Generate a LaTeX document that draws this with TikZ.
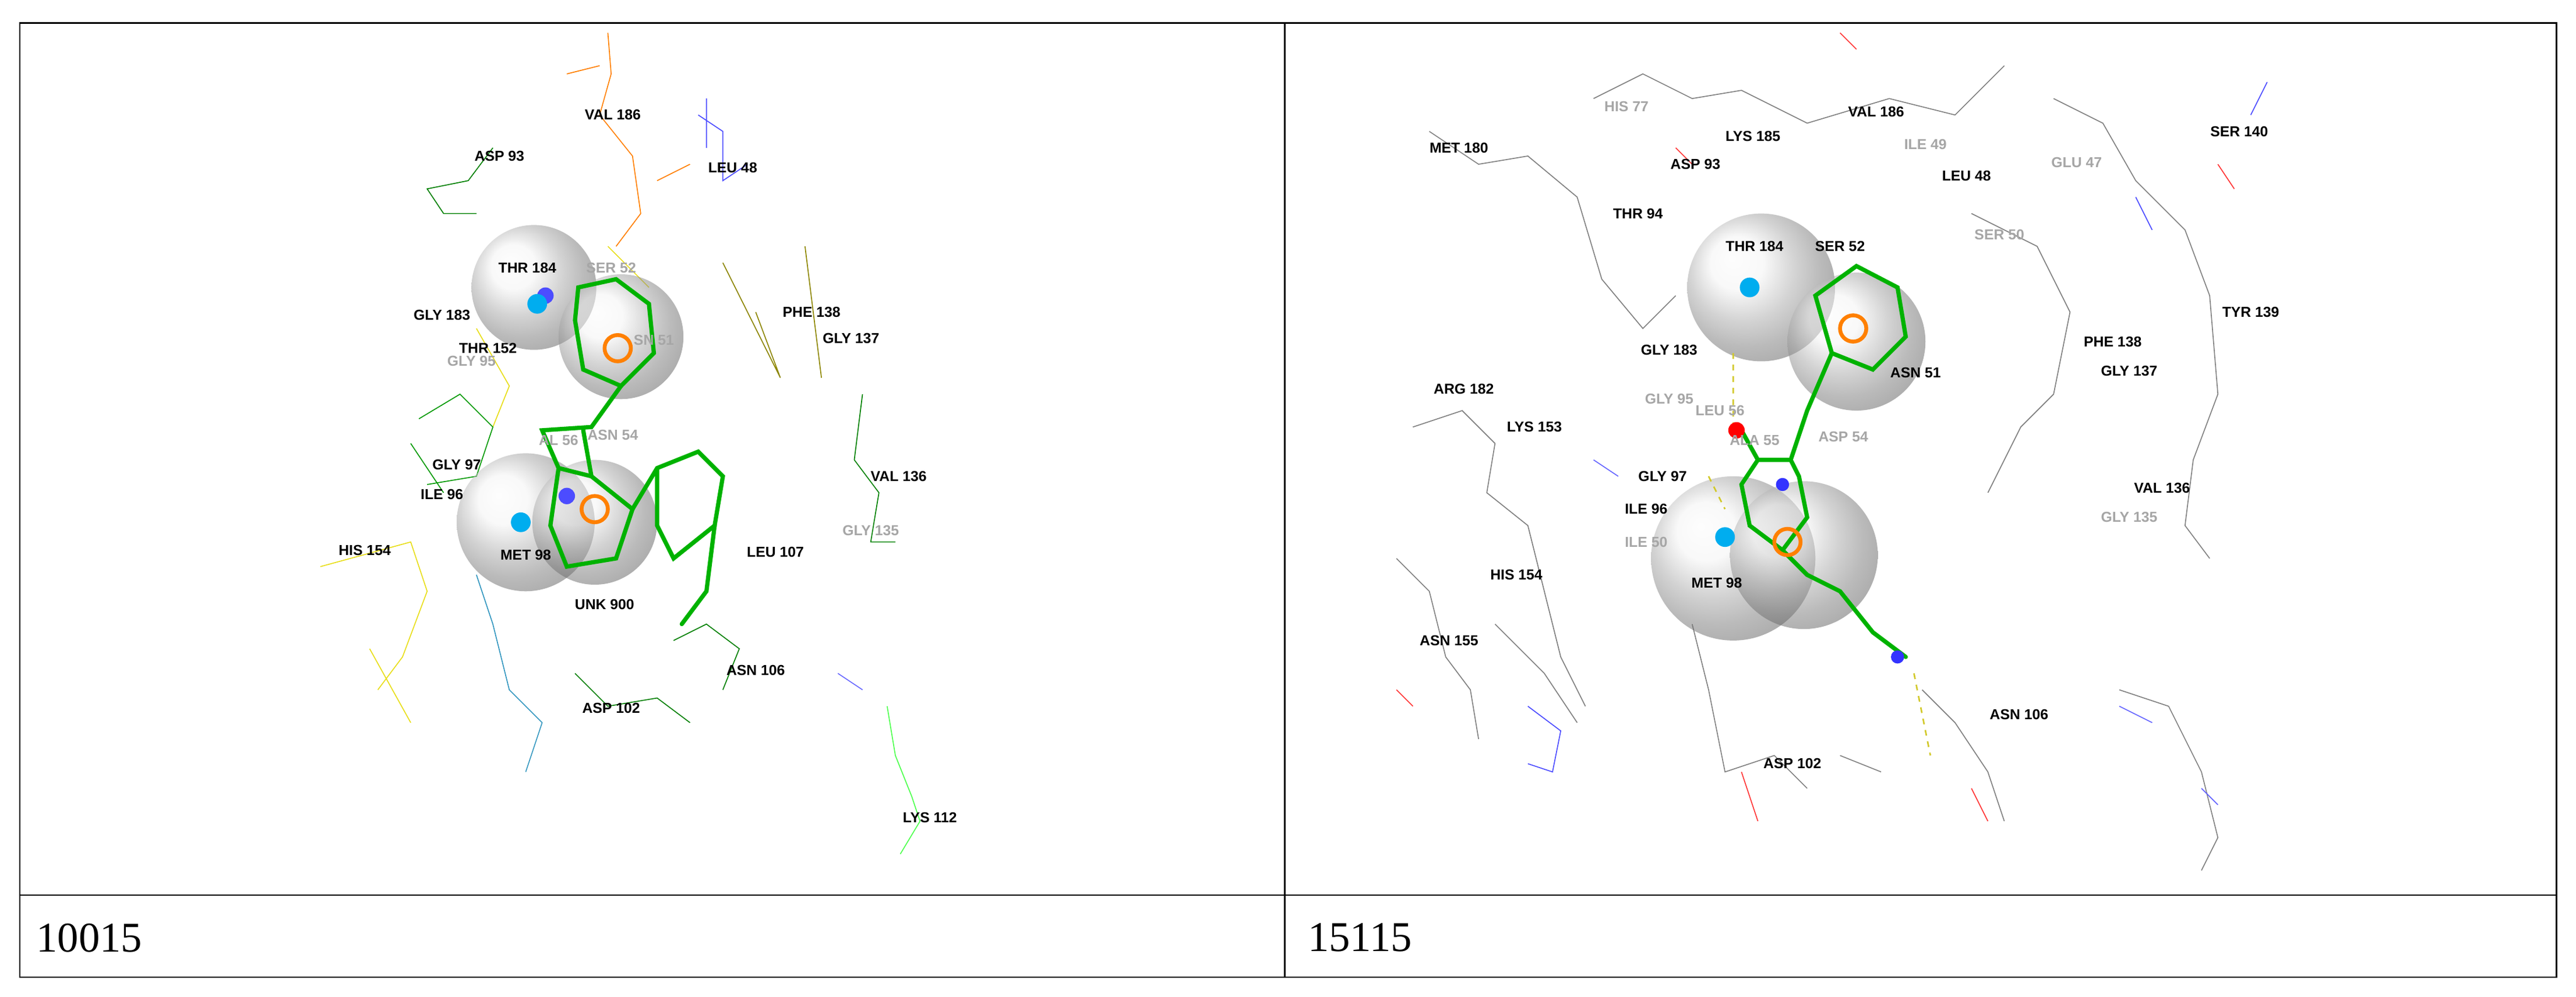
\documentclass[tikz,border=0pt]{standalone}
\usepackage{fontspec}
\setmainfont{Liberation Serif}
\setsansfont{Liberation Sans}
\begin{document}
\begin{tikzpicture}[x=0.03cm,y=-0.03cm,
 res/.style={font=\sffamily\bfseries\fontsize{7.5}{8}\selectfont,inner sep=0pt},
 resg/.style={res,text=gray!70},
 sph/.style={ball color=gray!12,opacity=0.5},
 stick/.style={draw=green!70!black,line width=2.2pt,line cap=round},
 wire/.style={line width=0.5pt},
 hb/.style={draw=yellow!80!black,dashed,line width=0.8pt},
 captext/.style={font=\fontsize{22}{26}\selectfont,anchor=west}]
\useasboundingbox (0,0) rectangle (1568,607);
\fill[white] (0,0) rectangle (1568,607);
% ---------- LEFT PANEL wires ----------
\draw[wire,orange] (370,20)--(372,45)--(365,70)--(385,95)--(390,130)--(375,150);
\draw[wire,orange] (345,45)--(365,40) (400,110)--(420,100);
\draw[wire,blue!70] (425,70)--(440,80)--(440,110)--(455,100) (430,60)--(430,90);
\draw[wire,green!50!black] (300,90)--(285,110)--(260,115)--(270,130)--(290,130);
\draw[wire,green!50!black] (520,280)--(535,300)--(530,330)--(545,330) (525,240)--(520,280);
\draw[wire,olive] (440,160)--(475,230)--(460,190) (490,150)--(495,190)--(500,230);
\draw[wire,yellow!90!black] (195,345)--(250,330)--(260,360)--(245,400)--(230,420) (225,395)--(250,440);
\draw[wire,yellow!90!black] (290,200)--(310,235)--(300,260) (370,150)--(395,175);
\draw[wire,green!60!black] (255,255)--(280,240)--(300,260)--(290,290)--(260,295) (250,270)--(270,300);
\draw[wire,cyan!50!teal] (300,380)--(310,420)--(330,440)--(320,470) (290,350)--(300,380);
\draw[wire,green!50!black] (350,410)--(370,430)--(400,425)--(420,440) (410,390)--(430,380)--(450,395)--(440,420);
\draw[wire,green!70] (540,430)--(545,460)--(555,485)--(560,500)--(548,520);
\draw[wire,blue!60] (510,410)--(525,420);
% spheres left
\shade[sph] (325,175) circle (38);
\shade[sph] (378,205) circle (38);
\shade[sph] (320,318) circle (42);
\shade[sph] (362,318) circle (38);
% molecule left
\draw[stick] (352,175)--(375,170)--(395,185)--(398,215)--(378,235)--(355,225)--(350,195)--cycle;
\draw[stick] (378,235)--(360,260)--(330,262)--(340,285)--(360,290)--(355,262);
\draw[stick] (340,285)--(335,320)--(345,345)--(375,340)--(385,310)--(360,290);
\draw[stick] (385,310)--(400,285)--(425,275)--(440,290)--(435,320)--(410,340)--(400,320)--(400,285);
\draw[stick] (435,320)--(430,360)--(415,380);
\draw[orange,line width=2pt] (376,212) circle (8) (362,310) circle (8);
\fill[blue!70] (332,180) circle (5) (345,302) circle (5);
\fill[cyan] (327,185) circle (6) (317,318) circle (6);
% labels left
\node[res] at (373,70) {VAL 186}; \node[res] at (446,102) {LEU 48};
\node[res] at (304,95) {ASP 93};  \node[res] at (321,163) {THR 184};
\node[resg] at (372,163) {SER 52}; \node[res] at (269,192) {GLY 183};
\node[res] at (297,212) {THR 152}; \node[resg] at (287,220) {GLY 95};
\node[resg] at (398,207) {SN 51};  \node[res] at (494,190) {PHE 138};
\node[res] at (518,206) {GLY 137}; \node[resg] at (340,268) {AL 56};
\node[resg] at (373,265) {ASN 54}; \node[res] at (278,283) {GLY 97};
\node[res] at (269,301) {ILE 96};  \node[res] at (222,335) {HIS 154};
\node[res] at (320,338) {MET 98};  \node[res] at (368,368) {UNK 900};
\node[res] at (472,336) {LEU 107}; \node[res] at (547,290) {VAL 136};
\node[resg] at (530,323) {GLY 135}; \node[res] at (460,408) {ASN 106};
\node[res] at (372,431) {ASP 102}; \node[res] at (566,498) {LYS 112};
% ---------- RIGHT PANEL wires ----------
\draw[wire,gray] (870,80)--(900,100)--(930,95)--(960,120)--(975,170)--(1000,200)--(1020,180);
\draw[wire,gray] (860,260)--(890,250)--(910,270)--(905,300)--(930,320)--(940,360)--(950,400)--(965,430);
\draw[wire,gray] (970,60)--(1000,45)--(1030,60)--(1060,55)--(1100,75)--(1150,60)--(1190,70)--(1220,40);
\draw[wire,gray] (1250,60)--(1280,75)--(1300,110)--(1330,140)--(1345,180)--(1350,240)--(1335,280)--(1330,320)--(1345,340);
\draw[wire,gray] (1200,130)--(1240,150)--(1260,190)--(1250,240)--(1230,260)--(1210,300);
\draw[wire,gray] (1170,420)--(1190,440)--(1210,470)--(1220,500) (1290,420)--(1320,430)--(1340,470)--(1350,510)--(1340,530);
\draw[wire,gray] (1030,380)--(1040,420)--(1050,470)--(1080,460)--(1100,480) (1120,460)--(1145,470);
\draw[wire,gray] (850,340)--(870,360)--(880,400)--(895,420)--(900,450) (910,380)--(940,410)--(960,440);
\draw[wire,blue!70] (930,430)--(950,445)--(945,470)--(930,465) (1380,50)--(1370,70) (1300,120)--(1310,140);
\draw[wire,red!80] (850,420)--(860,430) (1020,90)--(1030,100) (1120,20)--(1130,30) (1350,100)--(1360,115) (1060,470)--(1070,500) (1200,480)--(1210,500);
\draw[wire,blue!60] (1290,430)--(1310,440) (1340,480)--(1350,490) (970,280)--(985,290);
% spheres right
\shade[sph] (1072,175) circle (45);
\shade[sph] (1130,208) circle (42);
\shade[sph] (1055,340) circle (50);
\shade[sph] (1098,338) circle (45);
% molecule right
\draw[stick] (1105,180)--(1130,162)--(1155,175)--(1160,205)--(1140,225)--(1115,215)--cycle;
\draw[stick] (1115,215)--(1100,250)--(1090,280)--(1070,280)--(1060,295)--(1065,320)--(1085,335)--(1100,315)--(1095,290)--(1090,280);
\draw[stick] (1070,280)--(1060,262);
\draw[stick] (1085,335)--(1100,350)--(1120,360)--(1140,385)--(1160,400);
\draw[hb] (1055,215)--(1055,258) (1040,290)--(1050,310) (1165,410)--(1175,460);
\fill[red] (1057,262) circle (5);
\fill[blue!80] (1085,295) circle (4) (1155,400) circle (4);
\draw[orange,line width=2pt] (1128,200) circle (8) (1088,330) circle (8);
\fill[cyan] (1065,175) circle (6) (1050,327) circle (6);
% labels right
\node[resg] at (990,65) {HIS 77};  \node[res] at (1067,83) {LYS 185};
\node[res] at (1142,68) {VAL 186}; \node[resg] at (1172,88) {ILE 49};
\node[res] at (1197,107) {LEU 48}; \node[res] at (1032,100) {ASP 93};
\node[res] at (888,90) {MET 180};  \node[resg] at (1264,99) {GLU 47};
\node[res] at (1363,80) {SER 140}; \node[res] at (997,130) {THR 94};
\node[resg] at (1217,143) {SER 50}; \node[res] at (1068,150) {THR 184};
\node[res] at (1120,150) {SER 52}; \node[res] at (1370,190) {TYR 139};
\node[res] at (1286,208) {PHE 138}; \node[res] at (1296,226) {GLY 137};
\node[res] at (1016,213) {GLY 183}; \node[res] at (1166,227) {ASN 51};
\node[res] at (891,237) {ARG 182}; \node[resg] at (1016,243) {GLY 95};
\node[resg] at (1047,250) {LEU 56}; \node[res] at (934,260) {LYS 153};
\node[resg] at (1122,266) {ASP 54}; \node[resg] at (1068,268) {ALA 55};
\node[res] at (1012,290) {GLY 97}; \node[res] at (1316,297) {VAL 136};
\node[res] at (1002,310) {ILE 96}; \node[resg] at (1296,315) {GLY 135};
\node[resg] at (1002,330) {ILE 50}; \node[res] at (923,350) {HIS 154};
\node[res] at (1045,355) {MET 98}; \node[res] at (882,390) {ASN 155};
\node[res] at (1229,435) {ASN 106}; \node[res] at (1091,465) {ASP 102};
% ---------- table ----------
\draw[line width=0.8pt] (12,14) rectangle (1556,595);
\draw[line width=0.8pt] (782,14)--(782,595);
\draw[line width=0.8pt] (12,545)--(1556,545);
\node[captext] (c1) at (18,571) {10015};
\node[captext] (c2) at (792,571) {15115};
\end{tikzpicture}
\end{document}
